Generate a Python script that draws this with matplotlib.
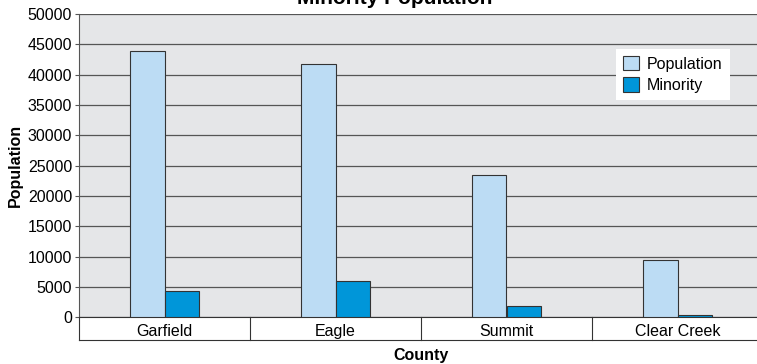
import numpy as np
import matplotlib.pyplot as plt

counties = ['Garfield', 'Eagle', 'Summit', 'Clear Creek']
population = [43900, 41750, 23450, 9400]
minority = [4400, 6000, 1900, 350]
yticks = [0, 5000, 10000, 15000, 20000, 25000, 30000, 35000, 40000, 45000, 50000]

plt.rcParams['font.family'] = ['Liberation Sans', 'DejaVu Sans']

fig = plt.figure(figsize=(7.57, 3.64), dpi=100)
ax = fig.add_axes([79 / 757, 46.7 / 364, 684 / 757, 303.3 / 364])
ax.set_facecolor('#e5e6e8')

x = np.arange(len(counties))
w = 0.2
ax.bar(x - w / 2, population, w, color='#bcdcf4', edgecolor='#333333', linewidth=0.8,
       label='Population', zorder=3)
ax.bar(x + w / 2, minority, w, color='#0096d9', edgecolor='#333333', linewidth=0.8,
       label='Minority', zorder=3)

ax.set_xlim(-0.5, len(counties) - 0.5)
ax.set_ylim(0, 50000)
ax.set_yticks(yticks)
ax.yaxis.grid(True, color='#555555', linewidth=0.9, zorder=1)
ax.tick_params(axis='y', labelsize=11.5, length=3, color='#555555', width=0.8, pad=2)

for s in ['top', 'right']:
    ax.spines[s].set_visible(False)
ax.spines['left'].set_color('#555555')
ax.spines['bottom'].set_color('#333333')

# category band below the plot
band = 22.7 / 303.3
tr = ax.get_xaxis_transform()
for b in np.arange(len(counties) + 1) - 0.5:
    ax.plot([b, b], [0, -band], transform=tr, color='#333333', lw=0.8, clip_on=False)
ax.plot([-0.5, len(counties) - 0.5], [-band, -band], transform=tr, color='#333333',
        lw=0.8, clip_on=False)
ax.set_xticks(x)
ax.set_xticklabels(counties, fontsize=11.5)
ax.tick_params(axis='x', length=0, pad=5)

ax.set_xlabel('County', fontsize=11.5, fontweight='bold', labelpad=6)
ax.set_ylabel('Population', fontsize=11.5, fontweight='bold', labelpad=3.5)

fig.text(395 / 757, 1 - 4 / 364, 'Minority Population', fontsize=15, fontweight='bold',
         ha='center', va='baseline')

leg = ax.legend(loc='upper left', bbox_to_anchor=(0.785, 0.885), borderaxespad=0,
                frameon=True, fancybox=False, fontsize=11.5, handlelength=1.0,
                handleheight=1.0, handletextpad=0.5, labelspacing=0.35,
                borderpad=0.45)
leg.get_frame().set_facecolor('white')
leg.get_frame().set_edgecolor('none')
leg.get_frame().set_alpha(1)

fig.savefig('out.png', dpi=100)
